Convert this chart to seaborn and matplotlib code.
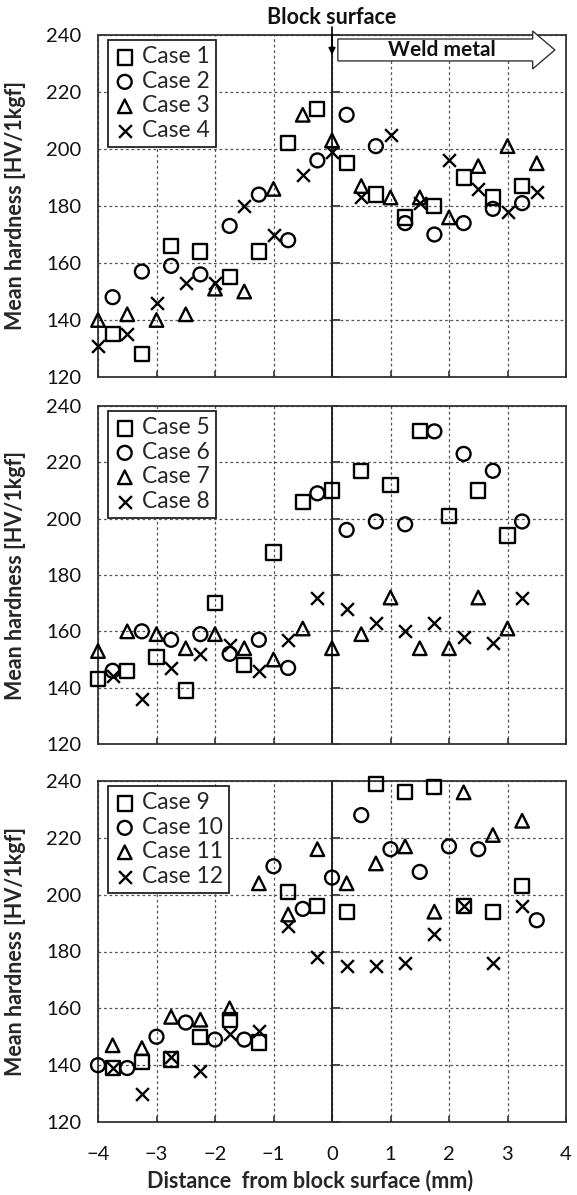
import matplotlib
matplotlib.use("Agg")
import matplotlib.pyplot as plt
import matplotlib.transforms as mtransforms
from matplotlib.patches import FancyArrow
import seaborn as sns

# ---------------- data ----------------
x_quarter = [-3.75, -3.25, -2.75, -2.25, -1.75, -1.25, -0.75, -0.25,
             0.25, 0.75, 1.25, 1.75, 2.25, 2.75, 3.25]
x_half16 = [-4, -3.5, -3, -2.5, -2, -1.5, -1, -0.5, 0, 0.5, 1, 1.5, 2, 2.5, 3, 3.5]
x_half15 = [-4, -3.5, -3, -2.5, -2, -1.5, -1, -0.5, 0, 0.5, 1, 1.5, 2, 2.5, 3]
x_case10 = [-4, -3.5, -3, -2.5, -2, -1.5, -1, -0.5, 0, 0.5, 1, 1.5, 2, 2.5, 3.5]

case1 = [135, 128, 166, 164, 155, 164, 202, 214, 195, 184, 176, 180, 190, 183, 187]
case2 = [148, 157, 159, 156, 173, 184, 168, 196, 212, 201, 174, 170, 174, 179, 181]
case3 = [140, 142, 140, 142, 151, 150, 186, 212, 203, 187, 183, 183, 176, 194, 201, 195]
case4 = [131, 135, 146, 153, 153, 180, 170, 191, 199, 183, 205, 181, 196, 186, 178, 185]

case5 = [143, 146, 151, 139, 170, 148, 188, 206, 210, 217, 212, 231, 201, 210, 194]
case6 = [146, 160, 157, 159, 152, 157, 147, 209, 196, 199, 198, 231, 223, 217, 199]
case7 = [153, 160, 159, 154, 159, 154, 150, 161, 154, 159, 172, 154, 154, 172, 161]
case8 = [144, 136, 147, 152, 155, 146, 157, 172, 168, 163, 160, 163, 158, 156, 172]

case9 = [139, 141, 142, 150, 156, 148, 201, 196, 194, 239, 236, 238, 196, 194, 203]
case10 = [140, 139, 150, 155, 149, 149, 210, 195, 206, 228, 216, 208, 217, 216, 191]
case11 = [147, 146, 157, 156, 160, 204, 193, 216, 204, 211, 217, 194, 236, 221, 226]
case12 = [139, 130, 143, 138, 151, 152, 189, 178, 175, 175, 176, 186, 196, 176, 196]

panels = [
    [("Case 1", x_quarter, case1), ("Case 2", x_quarter, case2),
     ("Case 3", x_half16, case3), ("Case 4", x_half16, case4)],
    [("Case 5", x_half15, case5), ("Case 6", x_quarter, case6),
     ("Case 7", x_half15, case7), ("Case 8", x_quarter, case8)],
    [("Case 9", x_quarter, case9), ("Case 10", x_case10, case10),
     ("Case 11", x_quarter, case11), ("Case 12", x_quarter, case12)],
]
markers = ["s", "o", "^", "x"]
sizes = [105, 100, 95, 85]

y_ticks = [120, 140, 160, 180, 200, 220, 240]
x_ticks = [-4, -3, -2, -1, 0, 1, 2, 3, 4]

# ---------------- style ----------------
sns.set_theme(style="white")
plt.rcParams["font.family"] = ["Lato", "DejaVu Sans"]

W, H = 577, 1195
fig = plt.figure(figsize=(W / 100, H / 100), dpi=100)
boxes = [(35, 377), (406, 744), (781, 1122)]
left_px, right_px = 98, 566

axes = []
for i, (top, bot) in enumerate(boxes):
    ax = fig.add_axes([left_px / W, 1 - bot / H, (right_px - left_px) / W, (bot - top) / H])
    axes.append(ax)
    for j, (lab, xs, ys) in enumerate(panels[i]):
        m = markers[j]
        if m == "x":
            sns.scatterplot(x=xs, y=ys, marker=m, s=sizes[j], color="black",
                            linewidth=1.7, label=lab, ax=ax, zorder=3, clip_on=False)
        else:
            sns.scatterplot(x=xs, y=ys, marker=m, s=sizes[j], facecolor="none",
                            edgecolor="black", linewidth=1.7, label=lab, ax=ax,
                            zorder=3, clip_on=False)
    ax.set_xlim(-4, 4)
    ax.set_ylim(120, 240)
    ax.set_xticks(x_ticks)
    ax.set_yticks(y_ticks)
    ax.grid(True, color="#555555", linestyle=(0, (2.2, 2.2)), linewidth=0.9)
    ax.axvline(0, color="#222222", linewidth=1.4, zorder=2)
    for sp in ax.spines.values():
        sp.set_color("#333333")
        sp.set_linewidth(1.3)
    ax.tick_params(axis="x", direction="in", length=4, width=1.2, color="#333333",
                   pad=17, labelsize=14.5, labelcolor="#111111", bottom=True, top=False)
    ax.tick_params(axis="y", length=0, pad=12, labelsize=14.5, labelcolor="#111111")
    # ticks on the block-surface line
    sec = ax.secondary_yaxis(0.5)
    sec.set_yticks(y_ticks)
    sec.tick_params(axis="y", direction="out", length=6, width=1.2, color="#222222",
                    labelleft=False, labelright=False, left=False, right=True)
    sec.spines["left"].set_visible(False)
    sec.spines["right"].set_visible(False)
    ax.set_ylabel("Mean hardness [HV/1kgf]", fontsize=15.5, fontweight="bold")
    ax.yaxis.set_label_coords((26 - left_px) / (right_px - left_px), 0.5)
    if i < 2:
        ax.tick_params(axis="x", labelbottom=False)
    leg = ax.legend(loc="upper left",
                    bbox_to_anchor=(10 / (right_px - left_px), 1 - 5 / (bot - top)),
                    borderaxespad=0, frameon=True, fancybox=False, fontsize=16.5,
                    handlelength=0.9, handletextpad=0.3, labelspacing=0.15,
                    borderpad=0.28, markerscale=1.0)
    leg.get_frame().set_edgecolor("#222222")
    leg.get_frame().set_linewidth(1.3)
    leg.get_frame().set_facecolor("white")
    leg.get_frame().set_alpha(1)

axes[2].set_xlabel("Distance  from block surface (mm)", fontsize=15.5, fontweight="bold")
axes[2].xaxis.set_label_coords((310 - left_px) / (right_px - left_px), -(1170 - 1122) / (1122 - 781))

# annotations on the top panel
ax1 = axes[0]
trans = mtransforms.blended_transform_factory(ax1.transData, ax1.transAxes)
ax1.text(0, 1 + (35 - 17) / 342, "Block surface", transform=trans, ha="center",
         va="center", fontsize=15.5, fontweight="bold", color="#111111")
ax1.annotate("", xy=(0, 233), xycoords="data",
             xytext=(0, 1 + (35 - 27) / 342), textcoords=trans,
             arrowprops=dict(arrowstyle="-|>", color="black", lw=1.2, mutation_scale=10,
                             shrinkA=0, shrinkB=0))
arrow = FancyArrow(0.1, 234.75, 3.71, 0, width=7.7, head_width=13.3, head_length=0.38,
                   length_includes_head=True, facecolor="white", edgecolor="#333333",
                   linewidth=1.0, clip_on=False, zorder=5)
ax1.add_patch(arrow)
ax1.text(1.88, 234.7, "Weld metal", ha="center", va="center", fontsize=15,
         fontweight="bold", color="#111111", zorder=6)

fig.savefig("out.png", dpi=100)
